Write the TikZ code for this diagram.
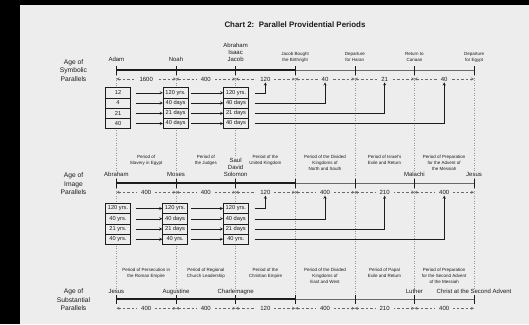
\documentclass[tikz,border=0pt]{standalone}
\usepackage{fontspec}
\setmainfont{Liberation Sans}
\usetikzlibrary{arrows,positioning}
\definecolor{chartbg}{RGB}{237,237,237}
\definecolor{chartink}{RGB}{28,28,28}
\definecolor{chartgrey}{RGB}{105,105,105}
\definecolor{chartdot}{RGB}{150,150,150}
\tikzstyle{agelabel} = [align=center, font=\fontsize{6.7}{8.5}\selectfont, text=chartink]
\tikzstyle{eventlabel} = [anchor=south, align=center, inner sep=0.5pt, text depth=0pt, fill=chartbg, font=\fontsize{6}{7}\selectfont, text=chartink]
\tikzstyle{smalllabel} = [anchor=south, align=center, inner sep=0.5pt, text depth=0pt, fill=chartbg, font=\fontsize{4.5}{6}\selectfont, text=chartink]
\tikzstyle{periodlabel} = [anchor=north, align=center, inner sep=0pt, font=\fontsize{4.5}{5.8}\selectfont, text=chartink]
\tikzstyle{numbox} = [rectangle, draw=chartink, fill=chartbg, minimum width=25pt, minimum height=10.25pt, inner sep=0pt, line width=0.5pt, font=\fontsize{5.7}{6}\selectfont, text=chartink]
\tikzstyle{span} = [<->, >=stealth, dash pattern=on 2.5pt off 2pt, chartgrey, line width=0.4pt]
\tikzstyle{spanlabel} = [fill=chartbg, inner xsep=4pt, inner ysep=1pt, font=\fontsize{6}{6}\selectfont, text=chartink]
\tikzstyle{arrow} = [->, >=stealth, chartink, line width=0.4pt]
\tikzstyle{guide} = [dotted, chartdot, line width=0.5pt]
\tikzstyle{heavy} = [line width=2.2pt, chartink]
\tikzstyle{light} = [line width=0.6pt, chartgrey]
\tikzstyle{notch} = [line width=0.6pt, chartink]

\begin{document}
\begin{tikzpicture}[x=1pt, y=-1pt]
\useasboundingbox (0,0) rectangle (529,324);
\fill[black] (0,0) rectangle (529,324);
\fill[chartbg] (20,5) rectangle (529,324);

% Title
\node[font=\fontsize{7.9}{9}\selectfont\bfseries, text=chartink] (title) at (295,25) {Chart 2:\ \ Parallel Providential Periods};

% Points on the three time lines
\foreach \i/\x in {0/116.4,1/176,2/235.6,3/295.2,4/354.8,5/414.4,6/474} {
  \coordinate (sym\i) at (\x,70);
  \coordinate (symd\i) at (\x,79);
  \coordinate (img\i) at (\x,183.3);
  \coordinate (imgd\i) at (\x,192.3);
  \coordinate (sub\i) at (\x,299.3);
  \coordinate (subd\i) at (\x,308.3);
}

% Dotted guides
\foreach \i in {0,...,6} {
  \draw[guide] (sym\i) -- (img\i);
  \draw[guide] (img\i) -- (sub\i);
}

% Time lines
\draw[light] (sym3) -- (sym6);
\draw[heavy] (sym0) -- (sym3);
\draw[light] (img3) -- (img6);
\draw[heavy] (img0) -- (img3);
\draw[light] (sub3) -- (sub6);
\draw[heavy] (sub0) -- (sub3);
\foreach \i in {0,...,6} {
  \draw[notch] (sym\i) ++(0,-4) -- ++(0,9);
  \draw[notch] (img\i) ++(0,-4) -- ++(0,9);
  \draw[notch] (sub\i) ++(0,-4) -- ++(0,9);
}

% Spans in years
\foreach \i/\j/\n in {0/1/1600,1/2/400,2/3/120,3/4/40,4/5/21,5/6/40}
  \draw[span] (symd\i) -- node[spanlabel] (symspan\j) {\n} (symd\j);
\foreach \i/\j/\n in {0/1/400,1/2/400,2/3/120,3/4/400,4/5/210,5/6/400} {
  \draw[span] (imgd\i) -- node[spanlabel] (imgspan\j) {\n} (imgd\j);
  \draw[span] (subd\i) -- node[spanlabel] (subspan\j) {\n} (subd\j);
}

% Age labels
\node[agelabel] (symage) at (73.5,70.5) {Age of\\Symbolic\\Parallels};
\node[agelabel] (imgage) at (73.5,183.8) {Age of\\Image\\Parallels};
\node[agelabel] (subage) at (73.5,300) {Age of\\Substantial\\Parallels};

% Symbolic parallels
\node[eventlabel] (adam) at (116.4,62.5) {Adam};
\node[eventlabel] (noah) at (176,62.5) {Noah};
\node[eventlabel] (abraham) at (235.6,62.5) {Abraham\\Isaac\\Jacob};
\node[smalllabel] (birthright) at (295.2,62) {Jacob Bought\\the Birthright};
\node[smalllabel] (haran) at (354.8,62) {Departure\\for Haran};
\node[smalllabel] (canaan) at (414.4,62) {Return to\\Canaan};
\node[smalllabel] (egypt) at (474,62) {Departure\\for Egypt};

\foreach \r/\y/\ta/\tb in {1/92.8/12/120 yrs.,2/103/4/40 days,3/113.3/21/21 days,4/123.5/40/40 days} {
  \node[numbox] (symbox1\r) at (118,\y) {\ta};
  \node[numbox] (symbox2\r) at (175.6,\y) {\tb};
  \node[numbox] (symbox3\r) at (236,\y) {\tb};
  \draw[arrow, shorten <=5pt] (symbox1\r.east) -- (symbox2\r.west);
  \draw[arrow, shorten <=3pt] (symbox2\r.east) -- (symbox3\r.west);
}
\draw[arrow] ([xshift=6pt]symbox31.east) -| (symspan3.south);
\draw[arrow] ([xshift=6pt]symbox32.east) -| (symspan4.south);
\draw[arrow] ([xshift=6pt]symbox33.east) -| (symspan5.south);
\draw[arrow] ([xshift=6pt]symbox34.east) -| (symspan6.south);

% Image parallels
\node[periodlabel] (slavery) at (146.2,155) {Period of\\Slavery in Egypt};
\node[periodlabel] (judges) at (205.8,155) {Period of\\the Judges};
\node[periodlabel] (united) at (265.4,155) {Period of the\\United Kingdom};
\node[periodlabel] (dividedns) at (325,155) {Period of the Divided\\Kingdoms of\\North and South};
\node[periodlabel] (exile) at (384.6,155) {Period of Israel's\\Exile and Return};
\node[periodlabel] (messiah) at (444.2,155) {Period of Preparation\\for the Advent of\\the Messiah};

\node[eventlabel] (abrahamimg) at (116.4,177.5) {Abraham};
\node[eventlabel] (moses) at (176,177.5) {Moses};
\node[eventlabel] (saul) at (235.6,177.5) {Saul\\David\\Solomon};
\node[eventlabel] (malachi) at (414.4,177.5) {Malachi};
\node[eventlabel] (jesusimg) at (474,177.5) {Jesus};

\foreach \r/\y/\ta/\tb in {1/208.5/120 yrs./120 yrs.,2/218.7/40 yrs./40 days,3/229/21 yrs./21 days,4/239.2/40 yrs./40 yrs.} {
  \node[numbox] (imgbox1\r) at (118,\y) {\ta};
  \node[numbox] (imgbox2\r) at (175.1,\y) {\tb};
  \node[numbox] (imgbox3\r) at (235.8,\y) {\tb};
  \draw[arrow, shorten <=5pt] (imgbox1\r.east) -- (imgbox2\r.west);
  \draw[arrow, shorten <=3pt] (imgbox2\r.east) -- (imgbox3\r.west);
}
\draw[arrow] ([xshift=6pt]imgbox31.east) -| (imgspan3.south);
\draw[arrow] ([xshift=6pt]imgbox32.east) -| (imgspan4.south);
\draw[arrow] ([xshift=6pt]imgbox33.east) -| (imgspan5.south);
\draw[arrow] ([xshift=6pt]imgbox34.east) -| (imgspan6.south);

% Substantial parallels
\node[periodlabel] (persecution) at (146.2,268.3) {Period of Persecution in\\the Roman Empire};
\node[periodlabel] (regional) at (205.8,268.3) {Period of Regional\\Church Leadership};
\node[periodlabel] (christian) at (265.4,268.3) {Period of the\\Christian Empire};
\node[periodlabel] (dividedew) at (325,268.3) {Period of the Divided\\Kingdoms of\\East and West};
\node[periodlabel] (papal) at (384.6,268.3) {Period of Papal\\Exile and Return};
\node[periodlabel] (secondadvent) at (444.2,268.3) {Period of Preparation\\for the Second Advent\\of the Messiah};

\node[eventlabel] (jesussub) at (116.4,294.5) {Jesus};
\node[eventlabel] (augustine) at (176,294.5) {Augustine};
\node[eventlabel] (charlemagne) at (235.6,294.5) {Charlemagne};
\node[eventlabel] (luther) at (414.4,294.5) {Luther};
\node[eventlabel] (christ) at (474,294.5) {Christ at the Second Advent};
\end{tikzpicture}
\end{document}
